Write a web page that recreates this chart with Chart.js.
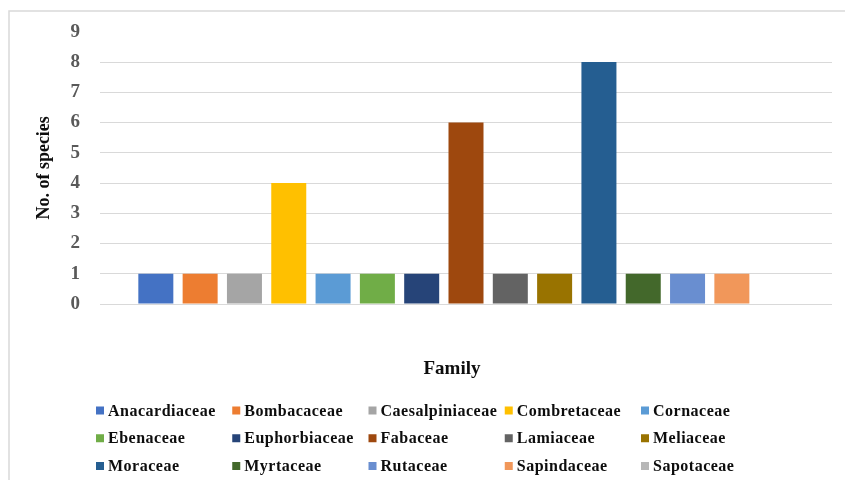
<!DOCTYPE html>
<html>
<head>
<meta charset="utf-8">
<script src="https://cdn.jsdelivr.net/npm/chart.js@4/dist/chart.umd.min.js"></script>
<style>
  html, body { margin: 0; padding: 0; background: #ffffff; }
  #wrap { width: 845px; height: 480px; }
</style>
</head>
<body>
<div id="wrap"><canvas id="c" width="845" height="480"></canvas></div>
<script>
// Plant families and number of species recorded in each
const families = [
  'Anacardiaceae', 'Bombacaceae', 'Caesalpiniaceae', 'Combretaceae', 'Cornaceae',
  'Ebenaceae', 'Euphorbiaceae', 'Fabaceae', 'Lamiaceae', 'Meliaceae',
  'Moraceae', 'Myrtaceae', 'Rutaceae', 'Sapindaceae', 'Sapotaceae'
];
const speciesCounts = [1, 1, 1, 4, 1, 1, 1, 6, 1, 1, 8, 1, 1, 1, 0];
const familyColors = [
  '#4472C4', '#ED7D31', '#A5A5A5', '#FFC000', '#5B9BD5',
  '#70AD47', '#264478', '#9E480E', '#636363', '#997300',
  '#255E91', '#43682B', '#698ED0', '#F1975A', '#B7B7B7'
];
const yTickValues = [0, 1, 2, 3, 4, 5, 6, 7, 8, 9];
const yTitle = 'No. of species';
const xTitle = 'Family';

const SERIF = '"Liberation Serif", "Times New Roman", serif';
const GRID = '#d9d9d9';

// One bar per family, all in a single unlabeled category
const datasets = families.map((name, i) => ({
  label: name,
  data: [speciesCounts[i]],
  backgroundColor: familyColors[i],
  borderWidth: 0,
  categoryPercentage: 0.908,
  barPercentage: 0.79
}));

// Outer frame of the chart area
const frame = {
  id: 'frame',
  beforeDraw(chart) {
    const ctx = chart.ctx;
    ctx.save();
    ctx.strokeStyle = GRID;
    ctx.lineWidth = 1.5;
    ctx.beginPath();
    ctx.moveTo(9, 480);
    ctx.lineTo(9, 11);
    ctx.lineTo(845, 11);
    ctx.stroke();
    ctx.restore();
  }
};

// Axis caption under the plot and a five-column legend grid
const gridLegend = {
  id: 'gridLegend',
  afterDraw(chart) {
    const ctx = chart.ctx;
    ctx.save();
    ctx.fillStyle = '#0d0d0d';
    ctx.textAlign = 'center';
    ctx.textBaseline = 'middle';
    ctx.font = 'bold 19px ' + SERIF;
    ctx.fillText(xTitle, 452, 369);

    ctx.font = 'bold 16px ' + SERIF;
    ctx.letterSpacing = '0.5px';
    ctx.textAlign = 'left';
    chart.data.datasets.forEach((ds, i) => {
      const col = i % 5;
      const row = Math.floor(i / 5);
      const x = 96 + col * 136.25;
      const y = 410.5 + row * 27.75;
      ctx.fillStyle = ds.backgroundColor;
      ctx.fillRect(x, y - 4, 8, 8);
      ctx.fillStyle = '#0d0d0d';
      ctx.fillText(ds.label, x + 12, y + 1);
    });
    ctx.restore();
  }
};

new Chart(document.getElementById('c'), {
  type: 'bar',
  data: { labels: [''], datasets },
  options: {
    responsive: false,
    devicePixelRatio: 1,
    animation: false,
    layout: { padding: { top: 31.75, right: 13, left: 0, bottom: 0 } },
    plugins: {
      legend: { display: false },
      tooltip: { enabled: false },
      title: { display: false }
    },
    scales: {
      x: {
        grid: { display: false, drawTicks: false },
        border: { display: false },
        ticks: { display: false },
        afterFit(scale) { scale.height = 176; }
      },
      y: {
        min: 0,
        max: 9,
        afterBuildTicks(scale) { scale.ticks = yTickValues.map(v => ({ value: v })); },
        afterFit(scale) { scale.width = 100; },
        border: { display: false },
        grid: {
          drawTicks: false,
          lineWidth: 1,
          color: c => (c.tick && c.tick.value === 9) ? 'rgba(0,0,0,0)' : GRID
        },
        ticks: {
          padding: 20,
          color: '#595959',
          font: { family: SERIF, size: 19, weight: 'bold' }
        },
        title: {
          display: true,
          text: yTitle,
          color: '#0d0d0d',
          padding: { top: 34, bottom: 0 },
          font: { family: SERIF, size: 18, weight: 'bold' }
        }
      }
    }
  },
  plugins: [frame, gridLegend]
});
</script>
</body>
</html>
